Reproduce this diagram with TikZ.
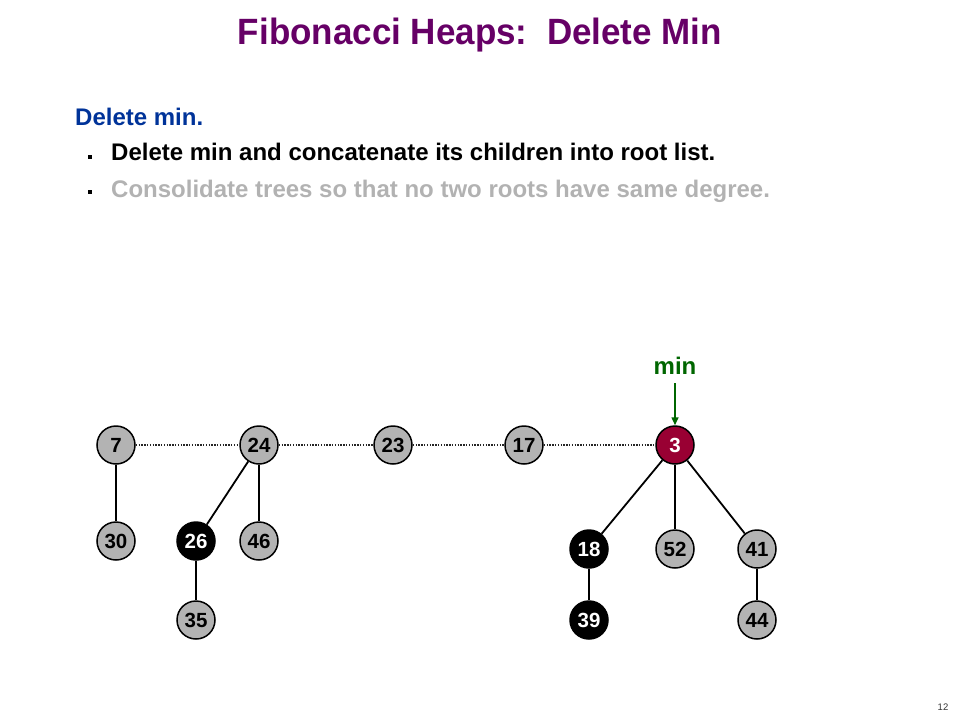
\documentclass[tikz,border=0pt]{standalone}
\usepackage{fontspec}
\setmainfont{Liberation Sans}
\usetikzlibrary{arrows.meta}
\definecolor{titlepurple}{HTML}{660066}
\definecolor{headblue}{HTML}{003399}
\definecolor{lightgray}{HTML}{B2B2B2}
\definecolor{nodegray}{HTML}{B3B3B3}
\definecolor{minred}{HTML}{990033}
\definecolor{mingreen}{HTML}{006600}
\tikzset{
  heapnode/.style={circle, draw=black, line width=1.5pt, fill=nodegray, minimum size=38pt, inner sep=0pt,
    font=\fontsize{20.5}{22}\selectfont\bfseries, text=black},
  marknode/.style={heapnode, fill=black, text=white},
  rootmin/.style={heapnode, fill=minred, text=white},
  treeedge/.style={line width=1.8pt, black},
  rootlink/.style={line width=1.5pt, black!85, dash pattern=on 1.4pt off 1.4pt},
  bodytext/.style={anchor=base west, inner sep=0pt, font=\fontsize{24}{26}\selectfont\bfseries},
  bulletsq/.style={fill=black, draw=none, minimum size=4.5pt, inner sep=0pt},
  minarrow/.style={line width=1.5pt, mingreen, -{Triangle[length=8pt,width=7pt]}}
}
\begin{document}
\begin{tikzpicture}[x=1pt,y=-1pt]
\useasboundingbox (0,0) rectangle (960,720);
% title
\node[anchor=base, inner sep=0pt, text=titlepurple] (title) at (480,44)
  {\resizebox{484pt}{26.5pt}{\bfseries Fibonacci Heaps:\ \ Delete Min}};
% text
\node[bodytext, text=headblue] (head) at (75,125) {Delete min.};
\node[bulletsq] (b1) at (90,157) {};
\node[bodytext, text=black] (l1) at (111,160) {Delete min and concatenate its children into root list.};
\node[bulletsq] (b2) at (90,192) {};
\node[bodytext, text=lightgray] (l2) at (111,197) {Consolidate trees so that no two roots have same degree.};
% nodes
\node[heapnode] (n7) at (116,445) {7};
\node[heapnode] (n24) at (259,445) {24};
\node[heapnode] (n23) at (393,445) {23};
\node[heapnode] (n17) at (524,445) {17};
\node[rootmin] (n3) at (675,445) {3};
\node[heapnode] (n30) at (116,541) {30};
\node[marknode] (n26) at (196,541) {26};
\node[heapnode] (n46) at (259,541) {46};
\node[heapnode] (n35) at (196,620) {35};
\node[marknode] (n18) at (589,549) {18};
\node[heapnode] (n52) at (675,549) {52};
\node[heapnode] (n41) at (757,549) {41};
\node[marknode] (n39) at (589,620) {39};
\node[heapnode] (n44) at (757,620) {44};
% root list
\draw[rootlink] (n7) -- (n24);
\draw[rootlink] (n24) -- (n23);
\draw[rootlink] (n23) -- (n17);
\draw[rootlink] (n17) -- (n3);
% tree edges
\draw[treeedge] (n7) -- (n30);
\draw[treeedge] (n24) -- (n26);
\draw[treeedge] (n24) -- (n46);
\draw[treeedge] (n26) -- (n35);
\draw[treeedge] (n3) -- (n18);
\draw[treeedge] (n3) -- (n52);
\draw[treeedge] (n3) -- (n41);
\draw[treeedge] (n18) -- (n39);
\draw[treeedge] (n41) -- (n44);
% min pointer
\node[anchor=base, inner sep=0pt, text=mingreen, font=\fontsize{24}{26}\selectfont\bfseries] (minl) at (675,374) {min};
\draw[minarrow] ([yshift=-9pt]minl.base) -- (n3.north);
% page number
\node[anchor=base, inner sep=0pt, font=\fontsize{9.5}{11}\selectfont, text=black!80] (pg) at (943,710) {12};
\end{tikzpicture}
\end{document}
